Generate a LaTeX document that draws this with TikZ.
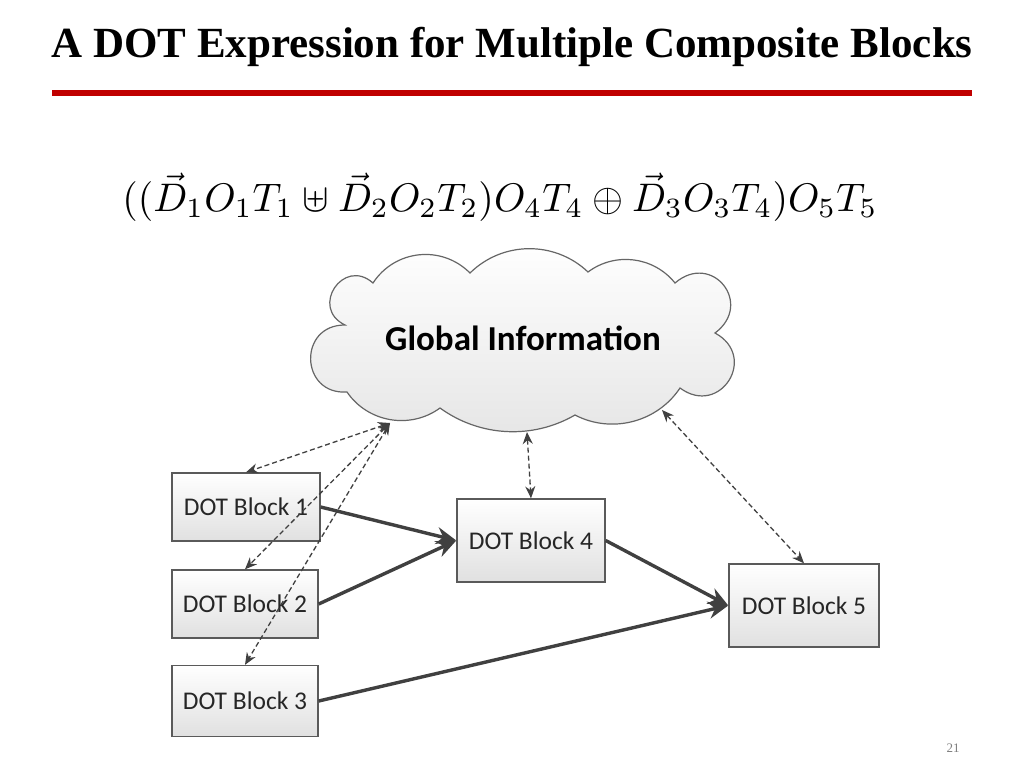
\documentclass[tikz,border=0pt]{standalone}
\usepackage{fontspec}
\setmainfont{Liberation Serif}
\newfontfamily\calibri{Carlito}
\usetikzlibrary{arrows.meta}
\definecolor{titlered}{RGB}{192,0,0}
\definecolor{edge}{RGB}{64,64,64}
\definecolor{boxline}{RGB}{90,90,90}
\tikzset{
  block/.style={draw=boxline, line width=1.4pt, top color=white, bottom color=black!12,
    minimum width=148pt, minimum height=68pt, inner sep=0pt,
    font=\calibri\fontsize{25.5}{30}\selectfont, text=black!85},
  flow/.style={draw=edge, line width=3.4pt, -{Stealth[length=20pt,width=17pt]}},
  info/.style={draw=edge, line width=1.3pt, dash pattern=on 5pt off 3pt,
    {Stealth[length=12pt,width=10pt]}-{Stealth[length=12pt,width=10pt]}},
  cloudline/.style={draw=black!60, line width=1.2pt, top color=white, bottom color=black!10},
}
\begin{document}
\begin{tikzpicture}[x=1pt,y=-1pt]
\useasboundingbox (0,0) rectangle (1024,768);
\fill[white] (0,0) rectangle (1024,768);
% title
\node[font=\bfseries\fontsize{43}{50}\selectfont] (title) at (512,47) {A DOT Expression for Multiple Composite Blocks};
\fill[titlered] (52,90) rectangle (972,96);
% formula
\node[inner sep=0pt] (formula) at (500,197) {\resizebox{755pt}{!}{$((\vec{D}_1O_1T_1 \uplus \vec{D}_2O_2T_2)O_4T_4 \oplus \vec{D}_3O_3T_4)O_5T_5$}};
% cloud cusps
\coordinate (pA) at (345,325);
\coordinate (pB) at (373,283);
\coordinate (pC) at (470,273);
\coordinate (pD) at (588,272);
\coordinate (pE) at (675,283);
\coordinate (pF) at (715,333);
\coordinate (pG) at (680,388);
\coordinate (pI) at (575,415);
\coordinate (pJ) at (440,408);
\coordinate (pK) at (347,392);
\path[cloudline]
  (pA) to[bend left=98, looseness=2.0] (pB)
       to[bend left=51, looseness=1.05] (pC)
       to[bend left=44, looseness=0.99] (pD)
       to[bend left=44, looseness=0.99] (pE)
       to[bend left=92, looseness=1.95] (pF)
       to[bend left=94, looseness=1.95] (pG)
       to[bend left=42, looseness=0.97] (pI)
       to[bend left=33, looseness=0.93] (pJ)
       to[bend left=46, looseness=1.0] (pK)
       to[bend left=92, looseness=1.8] (pA) -- cycle;
\node[font=\calibri\bfseries\fontsize{35}{40}\selectfont] (cloud) at (523,338) {Global Information};
% blocks
\node[block] (b1) at (246,507) {DOT Block 1};
\node[block, minimum width=146pt] (b2) at (245,604) {DOT Block 2};
\node[block, minimum width=146pt, minimum height=71pt] (b3) at (245,701) {DOT Block 3};
\node[block, minimum height=83pt] (b4) at (531,540.5) {DOT Block 4};
\node[block, minimum width=150pt, minimum height=83pt] (b5) at (804,605.5) {DOT Block 5};
% cloud anchor points
\coordinate (cl) at (390,423);
\coordinate (cm) at (527,432);
\coordinate (cr) at (662,410);
% information links
\draw[info] (cl) -- (b1.north);
\draw[info] (cl) -- (b2.north);
\draw[info] (cl) -- (b3.north);
\draw[info] (cm) -- (b4.north);
\draw[info] (cr) -- (b5.north);
% flows
\draw[flow] (b1.east) -- (b4.west);
\draw[flow] (b2.east) -- (b4.west);
\draw[flow] (b4.east) -- (b5.west);
\draw[flow] (b3.east) -- (b5.west);
% page number
\node[text=black!50, font=\fontsize{13}{15}\selectfont] (page) at (953,748) {21};
\end{tikzpicture}
\end{document}
